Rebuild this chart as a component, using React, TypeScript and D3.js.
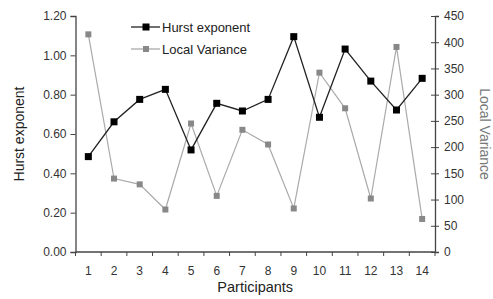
import React, { useEffect, useRef } from 'react';
import * as d3 from 'd3';

const participants = ['1', '2', '3', '4', '5', '6', '7', '8', '9', '10', '11', '12', '13', '14'];
const hurstValues = [0.485, 0.662, 0.776, 0.827, 0.519, 0.756, 0.717, 0.776, 1.095, 0.685, 1.032, 0.869, 0.722, 0.883];
const varianceValues = [415, 140, 129, 81, 245, 107, 233, 205, 83, 342, 274, 102, 391, 63];
const hurstTicks = [0, 0.2, 0.4, 0.6, 0.8, 1.0, 1.2];
const varianceTicks = [0, 50, 100, 150, 200, 250, 300, 350, 400, 450];

const W = 493;
const H = 299;
const FONT = 'Liberation Sans, Arial, sans-serif';

const App: React.FC = () => {
    const svgRef = useRef<SVGSVGElement>(null);

    useEffect(() => {
        if (!svgRef.current) return;
        const svg = d3.select(svgRef.current);
        svg.selectAll('*').remove();

        const left = 75.5, right = 435, top = 16, bottom = 252;

        const x = d3.scaleBand<string>().domain(participants).range([left, right]);
        const yL = d3.scaleLinear().domain([0, 1.2]).range([bottom, top]);
        const yR = d3.scaleLinear().domain([0, 450]).range([bottom, top]);

        const axisColor = '#444';

        // left axis
        const gL = svg.append('g').attr('transform', `translate(${left},0)`)
            .call(d3.axisLeft(yL).tickValues(hurstTicks).tickFormat(d3.format('.2f')).tickSize(5).tickPadding(4));
        // right axis, ticks cross the line
        const gR = svg.append('g').attr('transform', `translate(${right},0)`)
            .call(d3.axisRight(yR).tickValues(varianceTicks).tickSize(4).tickPadding(5));
        gR.selectAll('.tick line').attr('x1', -4);
        // bottom axis with ticks on band edges
        const gB = svg.append('g').attr('transform', `translate(0,${bottom})`)
            .call(d3.axisBottom(x).tickSize(0).tickPadding(14));
        const edges = participants.map(p => x(p) as number).concat([right]);
        gB.selectAll('line.edge').data(edges).join('line')
            .attr('class', 'edge')
            .attr('x1', d => d).attr('x2', d => d)
            .attr('y1', 0).attr('y2', 4)
            .attr('stroke', axisColor);

        [gL, gR, gB].forEach(g => {
            g.select('.domain').attr('stroke', axisColor).attr('stroke-width', 1.3);
            g.selectAll('.tick line').attr('stroke', axisColor);
            g.selectAll('text').attr('font-family', FONT).attr('font-size', 12).attr('fill', '#333');
        });
        gB.select('.domain').attr('d', `M${left},0H${right}`);

        const cx = (p: string) => (x(p) as number) + x.bandwidth() / 2;

        // local variance series
        const lineR = d3.line<number>().x((_, i) => cx(participants[i])).y(d => yR(d));
        svg.append('path').datum(varianceValues).attr('d', lineR)
            .attr('fill', 'none').attr('stroke', '#aaa').attr('stroke-width', 1.2);
        svg.selectAll('rect.lv').data(varianceValues).join('rect')
            .attr('class', 'lv')
            .attr('x', (_, i) => cx(participants[i]) - 3).attr('y', d => yR(d) - 3)
            .attr('width', 6).attr('height', 6).attr('fill', '#888');

        // hurst series
        const lineL = d3.line<number>().x((_, i) => cx(participants[i])).y(d => yL(d));
        svg.append('path').datum(hurstValues).attr('d', lineL)
            .attr('fill', 'none').attr('stroke', '#222').attr('stroke-width', 1.3);
        svg.selectAll('rect.hu').data(hurstValues).join('rect')
            .attr('class', 'hu')
            .attr('x', (_, i) => cx(participants[i]) - 3.5).attr('y', d => yL(d) - 3.5)
            .attr('width', 7).attr('height', 7).attr('fill', '#000');

        // legend
        const legend = [
            { label: 'Hurst exponent', line: '#222', mark: '#000', y: 27, s: 7 },
            { label: 'Local Variance', line: '#aaa', mark: '#888', y: 49, s: 6 },
        ];
        const lg = svg.append('g');
        legend.forEach(l => {
            lg.append('line').attr('x1', 131).attr('x2', 160).attr('y1', l.y).attr('y2', l.y)
                .attr('stroke', l.line).attr('stroke-width', 1.3);
            lg.append('rect').attr('x', 146 - l.s / 2).attr('y', l.y - l.s / 2)
                .attr('width', l.s).attr('height', l.s).attr('fill', l.mark);
            lg.append('text').attr('x', 162).attr('y', l.y + 4.5).text(l.label)
                .attr('font-family', FONT).attr('font-size', 13).attr('fill', '#222');
        });

        // axis titles
        svg.append('text').attr('transform', `translate(24,${(top + bottom) / 2}) rotate(-90)`)
            .attr('text-anchor', 'middle').attr('font-family', FONT).attr('font-size', 14)
            .attr('fill', '#222').text('Hurst exponent');
        svg.append('text').attr('transform', `translate(480,${(top + bottom) / 2}) rotate(90)`)
            .attr('text-anchor', 'middle').attr('font-family', FONT).attr('font-size', 14)
            .attr('fill', '#777').text('Local Variance');
        svg.append('text').attr('x', (left + right) / 2).attr('y', 292)
            .attr('text-anchor', 'middle').attr('font-family', FONT).attr('font-size', 14.5)
            .attr('fill', '#222').text('Participants');
    }, []);

    return (
        <svg ref={svgRef} width={W} height={H}
            style={{ position: 'absolute', top: 0, left: 0, background: '#fff' }} />
    );
};

export default App;
